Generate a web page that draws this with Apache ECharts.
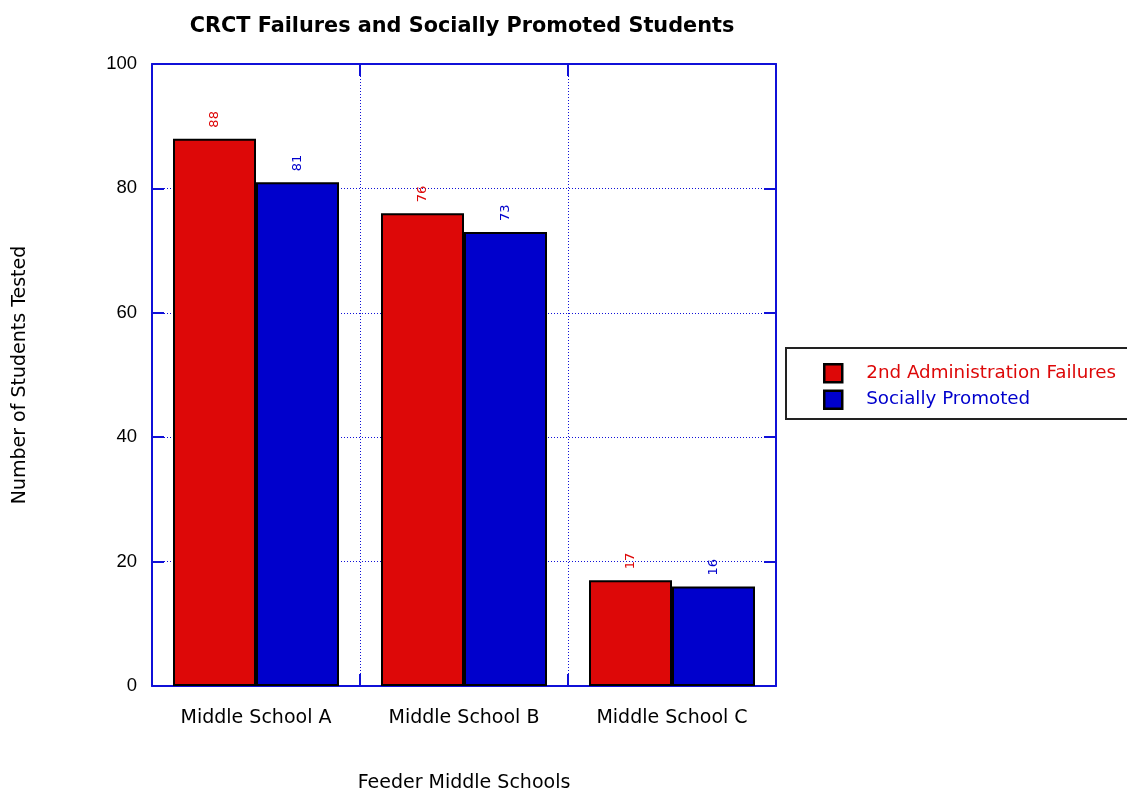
<!DOCTYPE html>
<html>
<head>
<meta charset="utf-8">
<script src="https://cdn.jsdelivr.net/npm/echarts@6/dist/echarts.min.js"></script>
<style>
html,body{margin:0;padding:0;background:#fff;overflow:hidden;}
#chart{width:1127px;height:789px;}
</style>
</head>
<body>
<div id="chart"></div>
<script>
// Feeder middle schools and their counts
const schools = ['Middle School A', 'Middle School B', 'Middle School C'];
const failures = [88, 76, 17];
const promoted = [81, 73, 16];
const yTicks = [0, 20, 40, 60, 80, 100];

const RED = '#DD0808';
const BLUE = '#0000CC';
const AXIS_BLUE = '#1010D8';
const SANS = '"DejaVu Sans", sans-serif';
const DIGITS = '"Liberation Sans", Arial, sans-serif';

const chart = echarts.init(document.getElementById('chart'));

function barSeries(name, data, color) {
  return {
    name: name,
    type: 'bar',
    data: data,
    xAxisIndex: 0,
    yAxisIndex: 0,
    barWidth: 83,
    barGap: '0%',
    itemStyle: { color: color, borderColor: '#000', borderWidth: 2 },
    label: {
      show: true,
      position: 'top',
      rotate: 90,
      distance: 11,
      align: 'left',
      verticalAlign: 'middle',
      color: color,
      fontFamily: SANS,
      fontSize: 13
    }
  };
}

const tickStyle = { show: true, inside: true, length: 12, lineStyle: { color: AXIS_BLUE, width: 2 } };
const lineStyle = { show: true, onZero: false, lineStyle: { color: AXIS_BLUE, width: 2 } };
const gridLine = { show: true, lineStyle: { color: AXIS_BLUE, type: [1, 2], width: 1 } };

chart.setOption({
  animation: false,
  backgroundColor: '#fff',
  title: {
    text: 'CRCT Failures and Socially Promoted Students',
    left: 457,
    textAlign: 'center',
    top: 11,
    textStyle: { fontFamily: SANS, fontSize: 20.8, fontWeight: 'bold', color: '#000' }
  },
  legend: {
    orient: 'vertical',
    left: 786,
    top: 348,
    padding: [15, 200, 9, 37],
    borderColor: '#222',
    borderWidth: 2,
    itemWidth: 18,
    itemHeight: 18,
    itemGap: 6,
    icon: 'rect',
    textStyle: { fontFamily: SANS, fontSize: 18.3, padding: [0, 0, 0, 19] },
    data: [
      { name: '2nd Administration Failures', textStyle: { color: RED }, itemStyle: { borderColor: '#000', borderWidth: 2.5 } },
      { name: 'Socially Promoted', textStyle: { color: BLUE }, itemStyle: { borderColor: '#000', borderWidth: 2.5 } }
    ]
  },
  grid: { left: 152, right: 351, top: 64, bottom: 103, outerBoundsMode: 'none' },
  xAxis: [
    {
      type: 'category',
      data: schools,
      position: 'bottom',
      name: 'Feeder Middle Schools',
      nameLocation: 'middle',
      nameGap: 88,
      nameTextStyle: { fontFamily: SANS, fontSize: 19, color: '#000' },
      axisLine: lineStyle,
      axisTick: tickStyle,
      axisLabel: { fontFamily: SANS, fontSize: 19, color: '#000', margin: 23 },
      splitLine: gridLine
    },
    {
      type: 'category',
      data: schools,
      position: 'top',
      axisLine: lineStyle,
      axisTick: tickStyle,
      axisLabel: { show: false },
      splitLine: { show: false }
    }
  ],
  yAxis: [
    {
      type: 'value',
      position: 'left',
      min: yTicks[0],
      max: yTicks[yTicks.length - 1],
      interval: 20,
      name: 'Number of Students Tested',
      nameLocation: 'middle',
      nameGap: 122,
      nameTextStyle: { fontFamily: SANS, fontSize: 19, color: '#000' },
      axisLine: lineStyle,
      axisTick: tickStyle,
      axisLabel: { fontFamily: DIGITS, fontSize: 18.5, color: '#000', margin: 15 },
      splitLine: gridLine
    },
    {
      type: 'value',
      position: 'right',
      min: yTicks[0],
      max: yTicks[yTicks.length - 1],
      interval: 20,
      axisLine: lineStyle,
      axisTick: tickStyle,
      axisLabel: { show: false },
      splitLine: { show: false }
    }
  ],
  series: [
    barSeries('2nd Administration Failures', failures, RED),
    barSeries('Socially Promoted', promoted, BLUE)
  ]
});
</script>
</body>
</html>
